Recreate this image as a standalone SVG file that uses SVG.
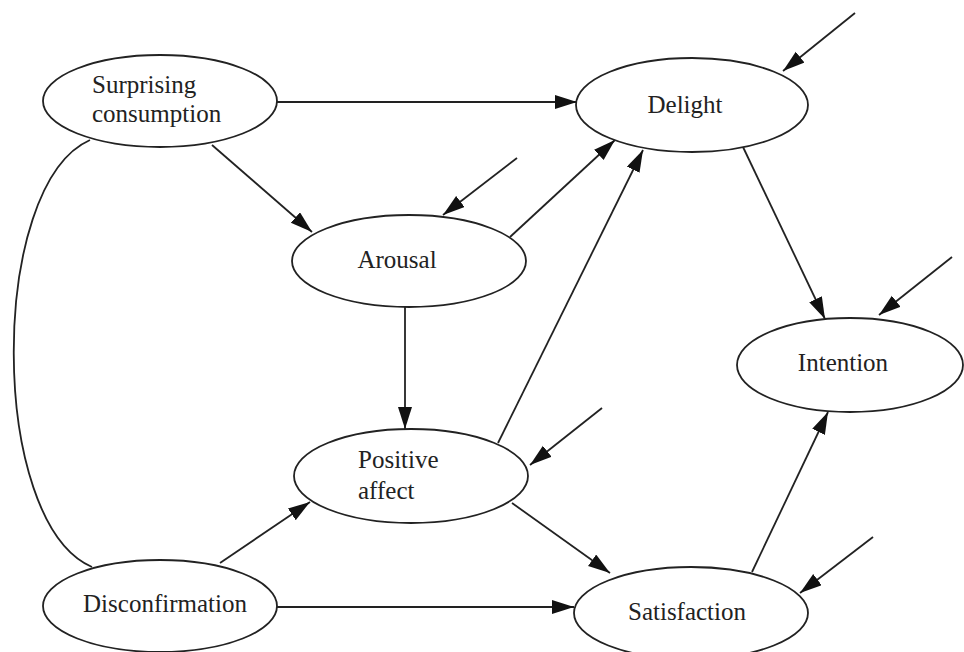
<svg xmlns="http://www.w3.org/2000/svg" width="964" height="652" viewBox="0 0 964 652">
<style>
.node ellipse{fill:#fff;stroke:#222;stroke-width:1.8}
.node text{font-family:"Liberation Serif","Times New Roman",serif;font-size:25px;fill:#222}
.c{fill:none;stroke:#222;stroke-width:1.8}
.a{marker-end:url(#ah)}
</style>
<defs>
<marker id="ah" markerUnits="userSpaceOnUse" markerWidth="24" markerHeight="16" refX="22" refY="7" orient="auto">
<path d="M0,0 L22,7 L0,14 z" fill="#111"/>
</marker>
</defs>
<rect width="964" height="652" fill="#fff"/>
<g id="connectors">
<path class="c" d="M90,140 C-12,185 -12,522 92,567"/>
<line class="c a" x1="277" y1="102" x2="577" y2="102"/>
<line class="c a" x1="212" y1="145" x2="312" y2="232"/>
<line class="c a" x1="510" y1="237" x2="615" y2="140"/>
<line class="c a" x1="517" y1="158" x2="443" y2="215"/>
<line class="c a" x1="855" y1="13" x2="783" y2="71"/>
<line class="c a" x1="405" y1="307" x2="405" y2="429"/>
<line class="c a" x1="498" y1="443" x2="643" y2="150"/>
<line class="c a" x1="602" y1="408" x2="530" y2="465"/>
<line class="c a" x1="743" y1="147" x2="825" y2="319"/>
<line class="c a" x1="952" y1="257" x2="879" y2="315"/>
<line class="c a" x1="220" y1="563" x2="310" y2="502"/>
<line class="c a" x1="512" y1="503" x2="610" y2="573"/>
<line class="c a" x1="277" y1="607" x2="574" y2="607"/>
<line class="c a" x1="752" y1="572" x2="828" y2="412"/>
<line class="c a" x1="873" y1="537" x2="800" y2="593"/>
</g>
<g id="surprising" class="node"><ellipse cx="160" cy="101" rx="117" ry="46"/><text x="92" y="93">Surprising</text><text x="92" y="122">consumption</text></g>
<g id="delight" class="node"><ellipse cx="692" cy="105" rx="116" ry="47"/><text x="685" y="113" text-anchor="middle">Delight</text></g>
<g id="arousal" class="node"><ellipse cx="409" cy="261" rx="117" ry="46"/><text x="397" y="268" text-anchor="middle">Arousal</text></g>
<g id="intention" class="node"><ellipse cx="850" cy="365" rx="113" ry="47"/><text x="843" y="371" text-anchor="middle">Intention</text></g>
<g id="positive" class="node"><ellipse cx="411" cy="476" rx="117" ry="47"/><text x="358" y="468">Positive</text><text x="358" y="499">affect</text></g>
<g id="disconfirmation" class="node"><ellipse cx="160" cy="606" rx="117" ry="46"/><text x="165" y="612" text-anchor="middle">Disconfirmation</text></g>
<g id="satisfaction" class="node"><ellipse cx="691" cy="613" rx="117" ry="46"/><text x="687" y="620" text-anchor="middle">Satisfaction</text></g>
</svg>
